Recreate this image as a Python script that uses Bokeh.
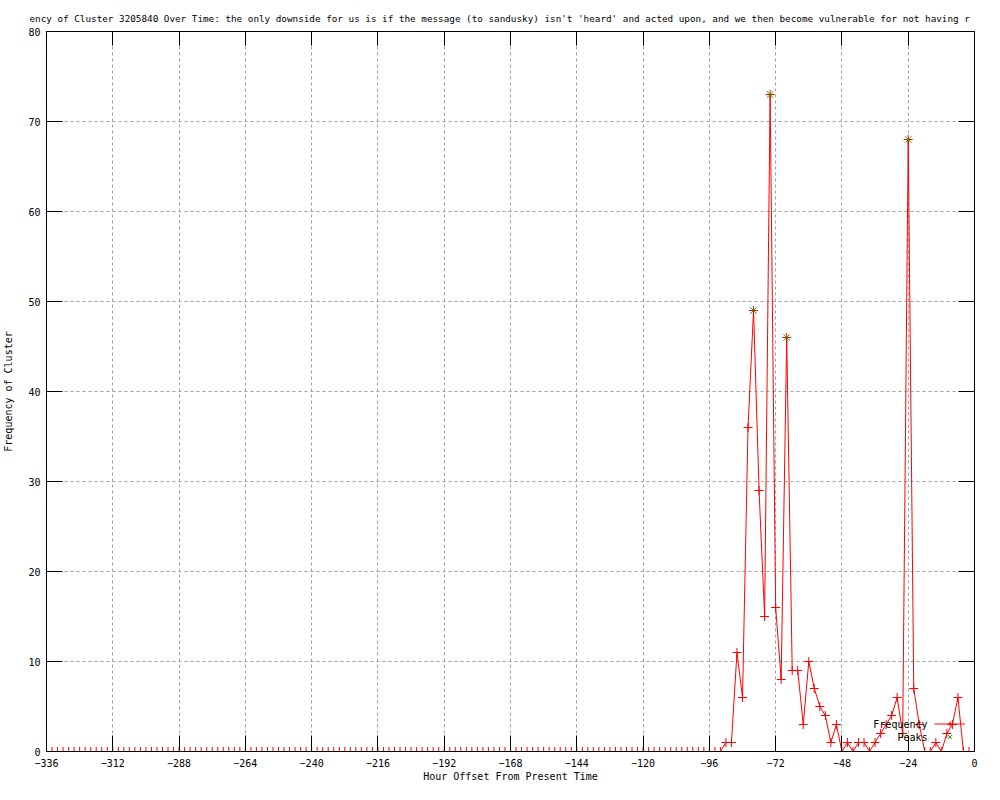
from bokeh.plotting import figure
from bokeh.models import Range1d, LinearAxis, FixedTicker, Label, Legend, LegendItem, Title
from bokeh.embed import file_html
from bokeh.resources import INLINE
from bokeh.core.properties import value

# ---- data (hour offsets every 2 hours, frequency of cluster) ----
hours = list(range(-336, 1, 2))
frequency = [0] * 123 + [
    1, 1, 11, 6, 36, 49, 29, 15, 73, 16,
    8, 46, 9, 9, 3, 10, 7, 5, 4, 1,
    3, 0, 1, 0, 1, 1, 0, 1, 2, 3,
    4, 6, 2, 68, 7, 3, 0, 0, 1, 0,
    2, 3, 6, 0, 0, 0,
]
peak_hours = [-80, -74, -68, -24]
peak_values = [49, 73, 46, 68]

x_ticks = list(range(-336, 1, 24))
y_ticks = list(range(0, 81, 10))

title_text = ("ency of Cluster 3205840 Over Time: the only downside for us is if the message "
              "(to sandusky) isn't 'heard' and acted upon, and we then become vulnerable for not having r")
x_label = "Hour Offset From Present Time"
y_label = "Frequency of Cluster"
series_names = ["Frequency", "Peaks"]

FONT = "DejaVu Sans Mono"
FS = "10px"

p = figure(width=984, height=784, output_backend="svg", toolbar_location=None,
           x_range=Range1d(-336, 0), y_range=Range1d(0, 80),
           min_border_left=41, min_border_right=10, min_border_top=31, min_border_bottom=32)
p.background_fill_color = "white"
p.border_fill_color = "white"
p.outline_line_color = "black"

# title (left-aligned, shifted so it is centred on the page)
p.title = Title(text=title_text, align="left", text_font=FONT, text_font_size="9.3px",
                text_font_style="normal", text_color="black", standoff=15, offset=-17)

# bottom / left axes
xa = p.xaxis[0]
xa.ticker = FixedTicker(ticks=x_ticks)
xa.axis_label = x_label
ya = p.yaxis[0]
ya.ticker = FixedTicker(ticks=y_ticks)
ya.axis_label = y_label
for ax, tin in ((xa, 16), (ya, 16)):
    ax.major_tick_in = tin
    ax.major_tick_out = 0
    ax.minor_tick_in = 0
    ax.minor_tick_out = 0
    ax.axis_line_color = "black"
    ax.major_tick_line_color = "black"
    ax.major_label_text_font = FONT
    ax.major_label_text_font_size = FS
    ax.major_label_text_color = "black"
    ax.axis_label_text_font = FONT
    ax.axis_label_text_font_size = FS
    ax.axis_label_text_font_style = "normal"
    ax.axis_label_text_color = "black"
xa.major_label_standoff = 7
xa.axis_label_standoff = 1
ya.major_label_standoff = 6
ya.axis_label_standoff = 11

# mirror axes (ticks only)
top = LinearAxis(ticker=FixedTicker(ticks=x_ticks), major_tick_in=14, major_tick_out=0,
                 minor_tick_in=0, minor_tick_out=0, major_label_standoff=0,
                 major_label_overrides={t: "" for t in x_ticks}, axis_line_color="black")
right = LinearAxis(ticker=FixedTicker(ticks=y_ticks), major_tick_in=16, major_tick_out=0,
                   minor_tick_in=0, minor_tick_out=0, major_label_standoff=0,
                   major_label_overrides={t: "" for t in y_ticks}, axis_line_color="black")
p.add_layout(top, "above")
p.add_layout(right, "right")

# grid
p.xgrid.ticker = FixedTicker(ticks=x_ticks)
p.ygrid.ticker = FixedTicker(ticks=y_ticks)
for g in (p.xgrid, p.ygrid):
    g.grid_line_color = "#a0a0a0"
    g.grid_line_dash = "3 3"
    g.grid_line_width = 1

# data
line_r = p.line(hours, frequency, line_color="red", line_width=1)
cross_r = p.scatter(hours, frequency, marker="cross", size=9, line_color="red", line_width=1)
peak_r = p.scatter(peak_hours, peak_values, marker="x", size=9, line_color="#00b000", line_width=1)

# legend: glyph samples, texts to their left
legend = Legend(items=[LegendItem(label=value(""), renderers=[line_r, cross_r]),
                       LegendItem(label=value(""), renderers=[peak_r])],
                location=(888, 8), glyph_width=31, glyph_height=13, label_height=13,
                label_width=0, label_standoff=0, spacing=0, padding=0, margin=0,
                border_line_alpha=0, background_fill_alpha=0, label_text_font_size=FS)
p.add_layout(legend)
for txt, yy in zip(series_names, (27, 14)):
    p.add_layout(Label(x=881, y=yy, x_units="screen", y_units="screen", text=txt,
                       text_align="right", text_baseline="middle",
                       text_font=FONT, text_font_size=FS, text_color="black"))

open("out.html", "w").write(file_html(p, INLINE))
